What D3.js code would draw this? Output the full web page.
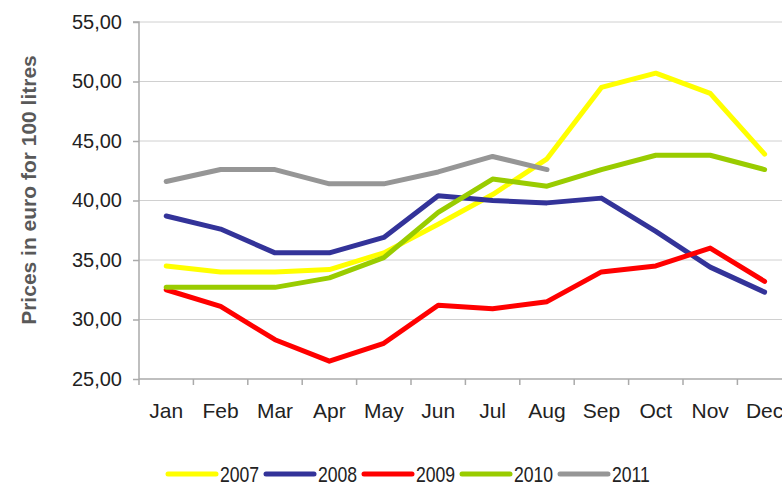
<!DOCTYPE html>
<html><head><meta charset="utf-8">
<script src="https://cdn.jsdelivr.net/npm/d3@7"></script>
<style>body{margin:0;background:#fff;}svg{display:block;font-family:"Liberation Sans",Arial,sans-serif;}</style>
</head><body>
<svg id="c" width="782" height="485"></svg>
<script>
const months = ["Jan","Feb","Mar","Apr","May","Jun","Jul","Aug","Sep","Oct","Nov","Dec"];
const yTicks = [25,30,35,40,45,50,55];
const years = ["2007","2008","2009","2010","2011"];
const colors = ["#FFFF00","#333399","#FF0000","#99CC00","#969696"];
const v2007 = [34.5,34.0,34.0,34.2,35.6,38.0,40.5,43.5,49.5,50.7,49.0,43.9];
const v2008 = [38.7,37.6,35.6,35.6,36.9,40.4,40.0,39.8,40.2,37.4,34.4,32.3];
const v2009 = [32.5,31.1,28.3,26.5,28.0,31.2,30.9,31.5,34.0,34.5,36.0,33.2];
const v2010 = [32.7,32.7,32.7,33.5,35.2,39.0,41.8,41.2,42.6,43.8,43.8,42.6];
const v2011 = [41.6,42.6,42.6,41.4,41.4,42.4,43.7,42.6];
const seriesVals = [v2007,v2008,v2009,v2010,v2011];

(function(){
const svg = d3.select("#c");
const pLeft = 139, pTop = 22, pBottom = 379, step = 54.4;
const x = d3.scaleBand().domain(months).range([pLeft, pLeft + step*12]);
const y = d3.scaleLinear().domain([25,55]).range([pBottom, pTop]);

// gridlines
svg.append("g").selectAll("line").data(yTicks.filter(d=>d>25)).join("line")
  .attr("x1", pLeft).attr("x2", 782).attr("y1", d=>y(d)).attr("y2", d=>y(d))
  .attr("stroke", "#d0d0d0").attr("stroke-width", 1);

// y axis
const yAxis = svg.append("g").attr("transform", `translate(${pLeft},0)`)
  .call(d3.axisLeft(y).tickValues(yTicks).tickSize(6).tickPadding(11)
    .tickFormat(d => d3.format(".2f")(d).replace(".", ",")));
yAxis.select(".domain").attr("stroke", "#aaaaaa").attr("stroke-width", 1.5).attr("d", `M-6,${pTop}H0V${pBottom}`);
yAxis.selectAll(".tick line").attr("stroke", "#aaaaaa").attr("stroke-width", 1.5);
yAxis.selectAll(".tick text").attr("font-size", 20).attr("fill", "#222");

// x axis
const xAxis = svg.append("g").attr("transform", `translate(0,${pBottom})`)
  .call(d3.axisBottom(x).tickSize(0).tickPadding(24));
xAxis.select(".domain").attr("stroke", "#aaaaaa").attr("stroke-width", 1.5).attr("d", `M${pLeft},0H782`);
xAxis.selectAll(".tick text").attr("font-size", 21).attr("fill", "#222");
svg.append("g").selectAll("line").data(d3.range(13)).join("line")
  .attr("x1", i => pLeft + i*x.step()).attr("x2", i => pLeft + i*x.step())
  .attr("y1", pBottom).attr("y2", pBottom+6).attr("stroke", "#aaaaaa").attr("stroke-width", 1.5);

// y label
svg.append("text").attr("transform", "translate(36,190) rotate(-90)")
  .attr("text-anchor", "middle").attr("font-size", 21).attr("font-weight", "bold")
  .attr("fill", "#595959").text("Prices in euro for 100 litres");

// lines
const line = d3.line().x((d,i) => x(months[i]) + x.bandwidth()/2).y(d => y(d));
svg.append("g").selectAll("path").data(seriesVals).join("path")
  .attr("d", d => line(d)).attr("fill", "none")
  .attr("stroke", (d,i) => colors[i]).attr("stroke-width", 5)
  .attr("stroke-linejoin", "round").attr("stroke-linecap", "round");

// legend
const lg = svg.append("g").selectAll("g").data(years).join("g")
  .attr("transform", (d,i) => `translate(${168 + i*98},474)`);
lg.append("line").attr("x1", 0).attr("x2", 48).attr("y1", 0).attr("y2", 0)
  .attr("stroke", (d,i) => colors[i]).attr("stroke-width", 5).attr("stroke-linecap", "round");
lg.append("text").attr("transform", "translate(52,8) scale(0.8,1)").attr("font-size", 22)
  .attr("fill", "#222").text(d => d);
})();
</script>
</body></html>
